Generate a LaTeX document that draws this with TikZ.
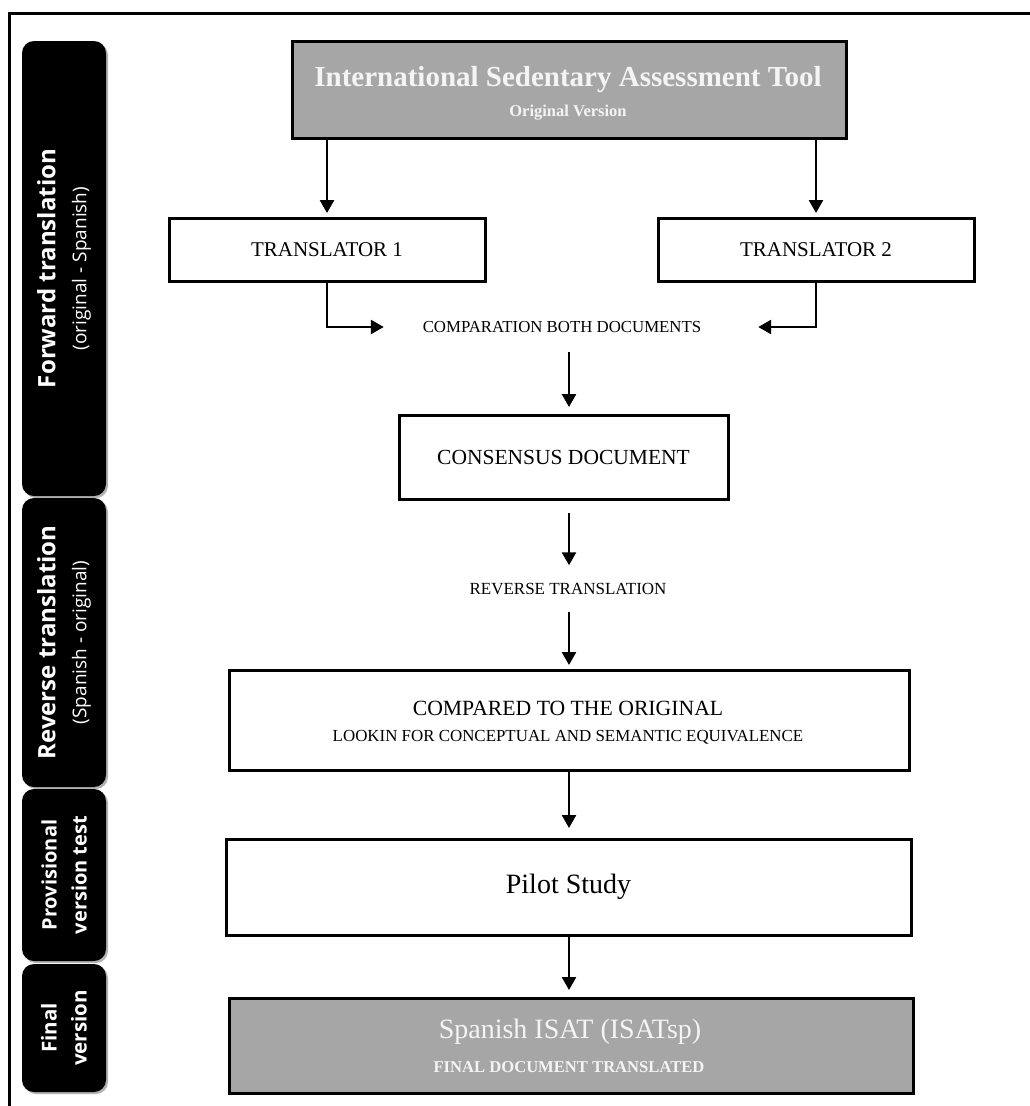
\documentclass[tikz,border=0pt]{standalone}
\usepackage{fontspec}
\setmainfont{Liberation Serif}
\newfontfamily\sidefont{Open Sans}
\usetikzlibrary{arrows.meta}
\definecolor{boxgray}{HTML}{A6A6A6}
\definecolor{lighttext}{HTML}{F4F4F4}
\tikzset{
  box/.style={draw=black, line width=3pt, fill=white, inner sep=0pt, outer sep=0pt},
  graybox/.style={box, fill=boxgray},
  lbl/.style={inner sep=0pt, outer sep=0pt},
  tab/.style={fill=black, rounded corners=12pt, draw=none, rotate=90, align=center,
    text=white, inner sep=0pt, font=\sidefont\fontsize{24}{31}\selectfont},
  tabshadow/.style={fill=black!30, rounded corners=12pt, draw=none},
  arr/.style={line width=2.6pt, -{Triangle[length=13pt,width=14pt]}},
}
\begin{document}
\begin{tikzpicture}[x=1pt,y=-1pt]
\useasboundingbox (0,0) rectangle (1030,1106);
\fill[white] (0,0) rectangle (1030,1106);
\draw[line width=3pt] (9,1106) -- (9,13) -- (1030,13);

% side tabs (shadows)
\fill[tabshadow] (24,43) rectangle (108,498);
\fill[tabshadow] (24,500) rectangle (108,789);
\fill[tabshadow] (24,791) rectangle (108,963);
\fill[tabshadow] (24,966) rectangle (108,1094);
% side tabs
\node[tab, minimum width=455pt, minimum height=84pt] (fw) at (64,268.5)
  {\bfseries Forward translation\\{\fontsize{19}{31}\selectfont (original - Spanish)}};
\node[tab, minimum width=289pt, minimum height=84pt] (rv) at (64,642.5)
  {\bfseries Reverse translation\\{\fontsize{19}{31}\selectfont (Spanish - original)}};
\node[tab, minimum width=172pt, minimum height=84pt, font=\sidefont\bfseries\fontsize{20}{30}\selectfont] (pv) at (64,875)
  {Provisional\\version test};
\node[tab, minimum width=128pt, minimum height=84pt, font=\sidefont\bfseries\fontsize{20.5}{30}\selectfont] (fn) at (64,1028)
  {Final\\version};

% main boxes
\node[graybox, minimum width=554pt, minimum height=97pt] (top) at (569,89.5) {};
\node[lbl, text=lighttext, font=\bfseries\fontsize{29}{34}\selectfont] (topT) at (568,80) {International Sedentary Assessment Tool};
\node[lbl, text=lighttext, font=\bfseries\fontsize{16.5}{20}\selectfont] (topS) at (568,113) {Original Version};

\node[box, minimum width=316pt, minimum height=63pt, font=\fontsize{21}{25}\selectfont] (t1) at (327,249.5) {TRANSLATOR 1};
\node[box, minimum width=316pt, minimum height=63pt, font=\fontsize{21}{25}\selectfont] (t2) at (816,249.5) {TRANSLATOR 2};

\node[lbl, font=\fontsize{16.8}{20}\selectfont] (cmpT) at (562,327) {COMPARATION BOTH DOCUMENTS};

\node[box, minimum width=329pt, minimum height=84pt, font=\fontsize{21.5}{26}\selectfont] (cons) at (563.5,457) {CONSENSUS DOCUMENT};

\node[lbl, font=\fontsize{17}{20}\selectfont] (revT) at (568,589) {REVERSE TRANSLATION};

\node[box, minimum width=680pt, minimum height=100pt] (comp) at (569,720) {};
\node[lbl, font=\fontsize{21.7}{26}\selectfont] (compT) at (568,708) {COMPARED TO THE ORIGINAL};
\node[lbl, font=\fontsize{16.9}{20}\selectfont] (compS) at (568,737) {LOOKIN FOR CONCEPTUAL AND SEMANTIC EQUIVALENCE};

\node[box, minimum width=685pt, minimum height=96pt, font=\fontsize{28}{34}\selectfont] (pilot) at (568.5,887) {Pilot Study};

\node[graybox, minimum width=684pt, minimum height=95pt] (final) at (571,1045.5) {};
\node[lbl, text=lighttext, font=\fontsize{28}{34}\selectfont] (finT) at (570,1032) {Spanish ISAT (ISATsp)};
\node[lbl, text=lighttext, font=\bfseries\fontsize{16.6}{20}\selectfont] (finS) at (569,1067) {FINAL DOCUMENT TRANSLATED};

% connectors
\draw[arr, shorten >=5pt] (t1.north |- top.south) -- (t1.north);
\draw[arr, shorten >=5pt] (t2.north |- top.south) -- (t2.north);
\draw[arr, shorten >=39pt] (t1.south) |- (cmpT.west);
\draw[arr, shorten >=57pt] (t2.south) |- (cmpT.east);
\draw[arr, shorten <=19pt, shorten >=8pt] (cmpT.south -| comp.north) -- (cons.north -| comp.north);
\draw[arr, shorten <=14pt, shorten >=18pt] (cons.south -| comp.north) -- (revT.north -| comp.north);
\draw[arr, shorten <=17pt, shorten >=5pt] (revT.south -| comp.north) -- (comp.north);
\draw[arr, shorten >=11pt] (comp.south) -- (comp.south |- pilot.north);
\draw[arr, shorten >=8pt] (pilot.south -| comp.south) -- (final.north -| comp.south);
\end{tikzpicture}
\end{document}
